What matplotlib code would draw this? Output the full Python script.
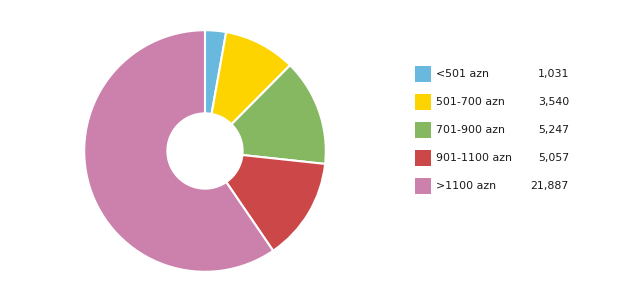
import matplotlib
matplotlib.use("Agg")
import matplotlib.pyplot as plt
from matplotlib.patches import Rectangle

labels = ["<501 azn", "501-700 azn", "701-900 azn", "901-1100 azn", ">1100 azn"]
values = [1031, 3540, 5247, 5057, 21887]
colors = ["#69b8de", "#fdd400", "#86b862", "#cc4848", "#cc80ac"]

W, H = 643, 301
fig = plt.figure(figsize=(W / 100, H / 100), dpi=100)

# donut
cx, cy, r = 205, 151, 122
ax = fig.add_axes([(cx - r) / W, (H - cy - r) / H, 2 * r / W, 2 * r / H])
ax.pie(values, colors=colors, startangle=90, counterclock=False, radius=1,
       wedgeprops=dict(width=1 - 38 / 122, edgecolor="white", linewidth=1.5))
ax.set_xlim(-1.01, 1.01)
ax.set_ylim(-1.01, 1.01)
ax.set_aspect("auto")
ax.axis("off")

# legend drawn by hand
lax = fig.add_axes([0, 0, 1, 1])
lax.set_xlim(0, W)
lax.set_ylim(H, 0)
lax.axis("off")
for i, (lab, val, col) in enumerate(zip(labels, values, colors)):
    y = 74 + i * 28
    lax.add_patch(Rectangle((415, y - 8), 16, 16, facecolor=col, edgecolor="none"))
    lax.text(436, y, lab, fontsize=7.9, va="center", ha="left", color="#1a1a1a")
    lax.text(569, y, f"{val:,}", fontsize=7.9, va="center", ha="right", color="#1a1a1a")

fig.savefig("out.png", dpi=100)
